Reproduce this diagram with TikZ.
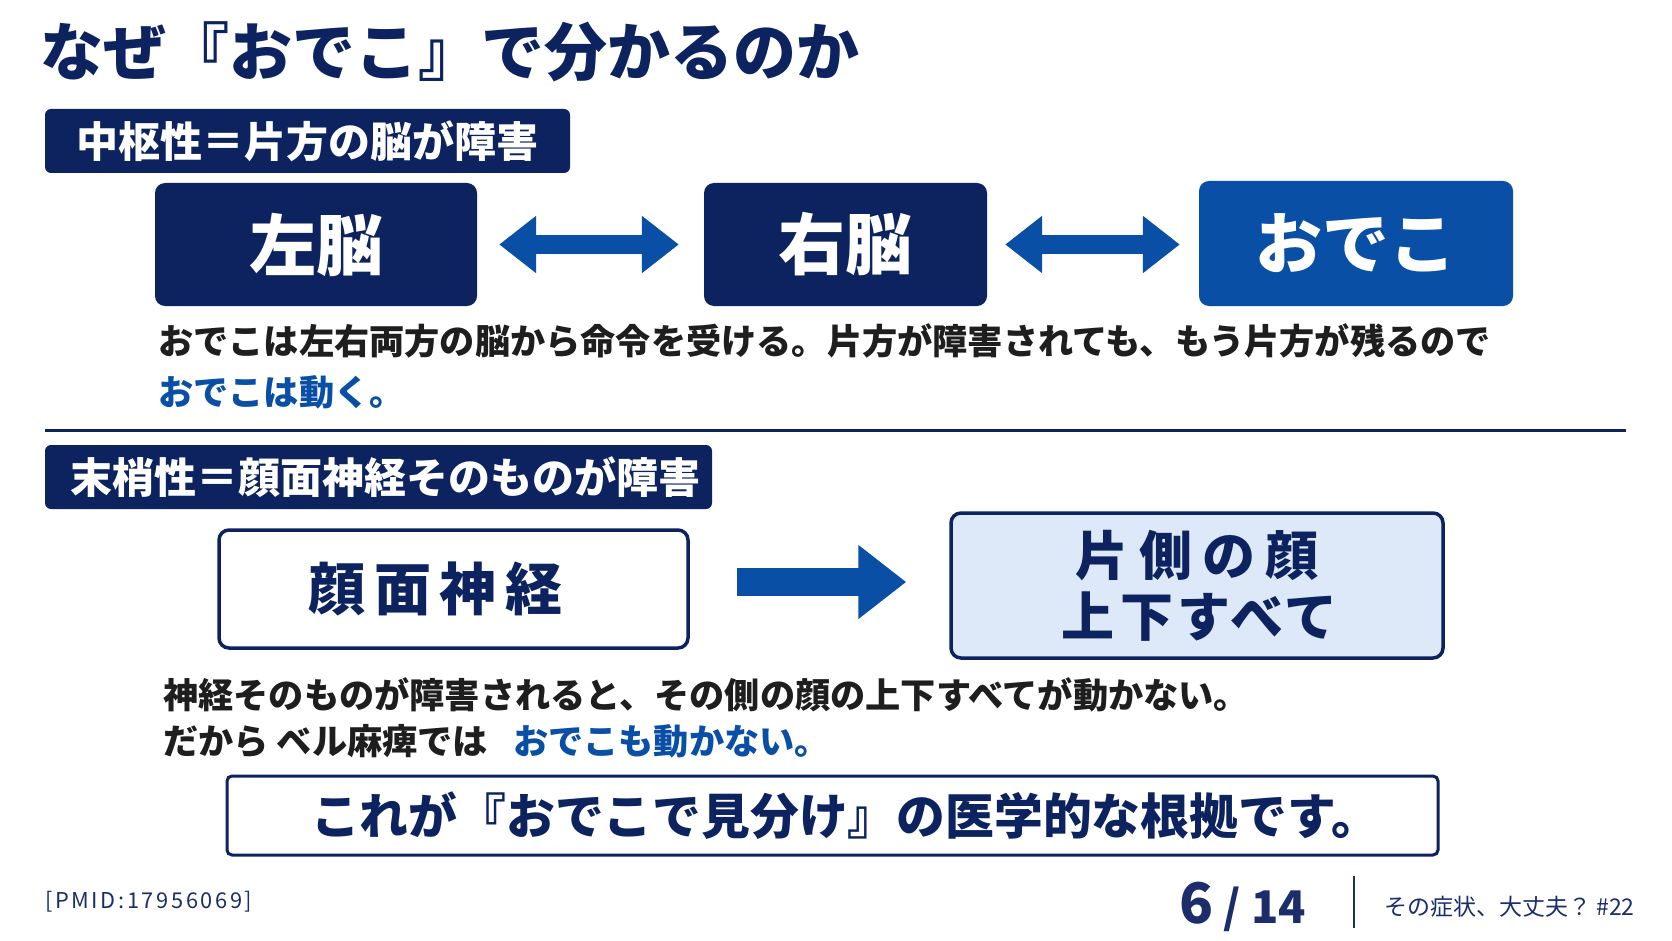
\documentclass[tikz,border=0pt]{standalone}
\usepackage{fontspec}
\setmainfont{Noto Sans CJK JP}
\newfontfamily\jpsp[LetterSpace=15]{Noto Sans CJK JP}
\newfontfamily\jppalt[RawFeature=+palt,LetterSpace=20]{Noto Sans CJK JP}
\newfontfamily\jppalttight[RawFeature=+palt,LetterSpace=12]{Noto Sans CJK JP}
\newfontfamily\jpfoot[LetterSpace=12]{Noto Sans CJK JP}
\usetikzlibrary{arrows.meta,positioning}
\definecolor{navy}{HTML}{0C2360}
\definecolor{brblue}{HTML}{0A4FA6}
\definecolor{pale}{HTML}{DDE8F8}
\definecolor{ink}{HTML}{1E1E1E}
\definecolor{footnavy}{HTML}{1B2E6B}

\begin{document}
\begin{tikzpicture}[x=1pt,y=-1pt,
  hdr/.style={fill=navy,rounded corners=6pt,text=white,minimum height=64pt,
    inner sep=0pt,font=\bfseries\fontsize{42}{46}\selectfont},
  darkbox/.style={fill=navy,rounded corners=10pt,text=white,
    minimum height=123pt,inner sep=0pt,font=\bfseries\fontsize{67}{70}\selectfont},
  outbox/.style={draw=navy,line width=3.5pt,fill=white,rounded corners=10pt,
    inner sep=0pt,text=navy},
  body/.style={anchor=west,inner sep=0pt,text=ink,
    font=\bfseries\fontsize{35.2}{40}\selectfont},
  foot/.style={inner sep=0pt,text=footnavy},
  dbl/.style={draw=brblue,line width=19pt,
    {Triangle[length=37pt,width=55pt]}-{Triangle[length=37pt,width=55pt]}},
  sgl/.style={draw=brblue,line width=28pt,-{Triangle[length=48pt,width=71pt]}}]
\useasboundingbox[fill=white] (0,0) rectangle (1672,941);

% title
\node[anchor=west,inner sep=0pt,text=navy,font=\bfseries\fontsize{63}{70}\selectfont]
  (title) at (40,52) {なぜ『おでこ』で分かるのか};

% central
\node[hdr,minimum width=525pt] (hdrc) at (307.5,141) {中枢性＝片方の脳が障害};
\node[darkbox,minimum width=322pt] (leftb) at (316,244.5) {左脳};
\node[darkbox,minimum width=283pt] (rightb) at (845.5,244.5) {右脳};
\node[darkbox,fill=brblue,minimum width=314pt,minimum height=125pt] (odeko)
  at (1356,243.5) {おでこ};
\draw[dbl,shorten <=22pt,shorten >=25pt] (leftb.east) -- (rightb.west);
\draw[dbl,shorten <=18pt,shorten >=19pt] (rightb.east) -- (rightb.east -| odeko.west);
\node[body] (txtc1) at (158,341)
  {おでこは左右両方の脳から命令を受ける。片方が障害されても、もう片方が残るので};
\node[body,text=brblue] (txtc2) at (158,392) {おでこは動く。};

\draw[navy,line width=3pt] (45,430) -- (1626,430);

% peripheral
\node[hdr,minimum width=667pt] (hdrp) at (378.5,477)
  {\hspace{13pt}末梢性＝顔面神経そのものが障害};
\node[outbox,minimum width=469pt,minimum height=118pt,
  font=\jpsp\bfseries\fontsize{57}{60}\selectfont] (nerve) at (453.5,589)
  {顔面神経\hspace{36pt}\null};
\node[outbox,fill=pale,minimum width=492pt,minimum height=145pt,align=center,
  font=\jppalt\bfseries\fontsize{53}{61}\selectfont] (face) at (1197,585.5)
  {片側の顔\\{\jppalttight 上下すべて}};
\coordinate (a3) at ([yshift=7pt]nerve.east);
\draw[sgl,shorten <=47pt,shorten >=43pt] (a3) -- (a3 -| face.west);
\node[body] (txtp1) at (163,695)
  {神経そのものが障害されると、その側の顔の上下すべてが動かない。};
\node[body] (txtp2) at (163,741)
  {だから ベル麻痺では\hspace{25pt}\textcolor{brblue}{おでこも動かない。}};

% conclusion
\node[outbox,line width=3pt,rounded corners=5pt,minimum width=1211pt,minimum height=79pt,
  font=\bfseries\fontsize{48.8}{52}\selectfont] (concl) at (832.5,815.5)
  {\hspace{26pt}これが『おでこで見分け』の医学的な根拠です。};

% footer
\node[foot,anchor=west,font=\jpfoot\fontsize{21.8}{24}\selectfont] (pmid) at (45,902)
  {[PMID:17956069]};
\node[foot,anchor=base west,font=\bfseries\fontsize{45}{48}\selectfont] (page)
  at (1179,923) {{\fontsize{56}{58}\selectfont 6} / 14};
\draw[footnavy,line width=2pt] (1354,876) -- (1354,928);
\node[foot,anchor=west,font=\fontsize{23}{26}\selectfont] (series) at (1384,907)
  {その症状、大丈夫？ \#22};
\end{tikzpicture}
\end{document}
